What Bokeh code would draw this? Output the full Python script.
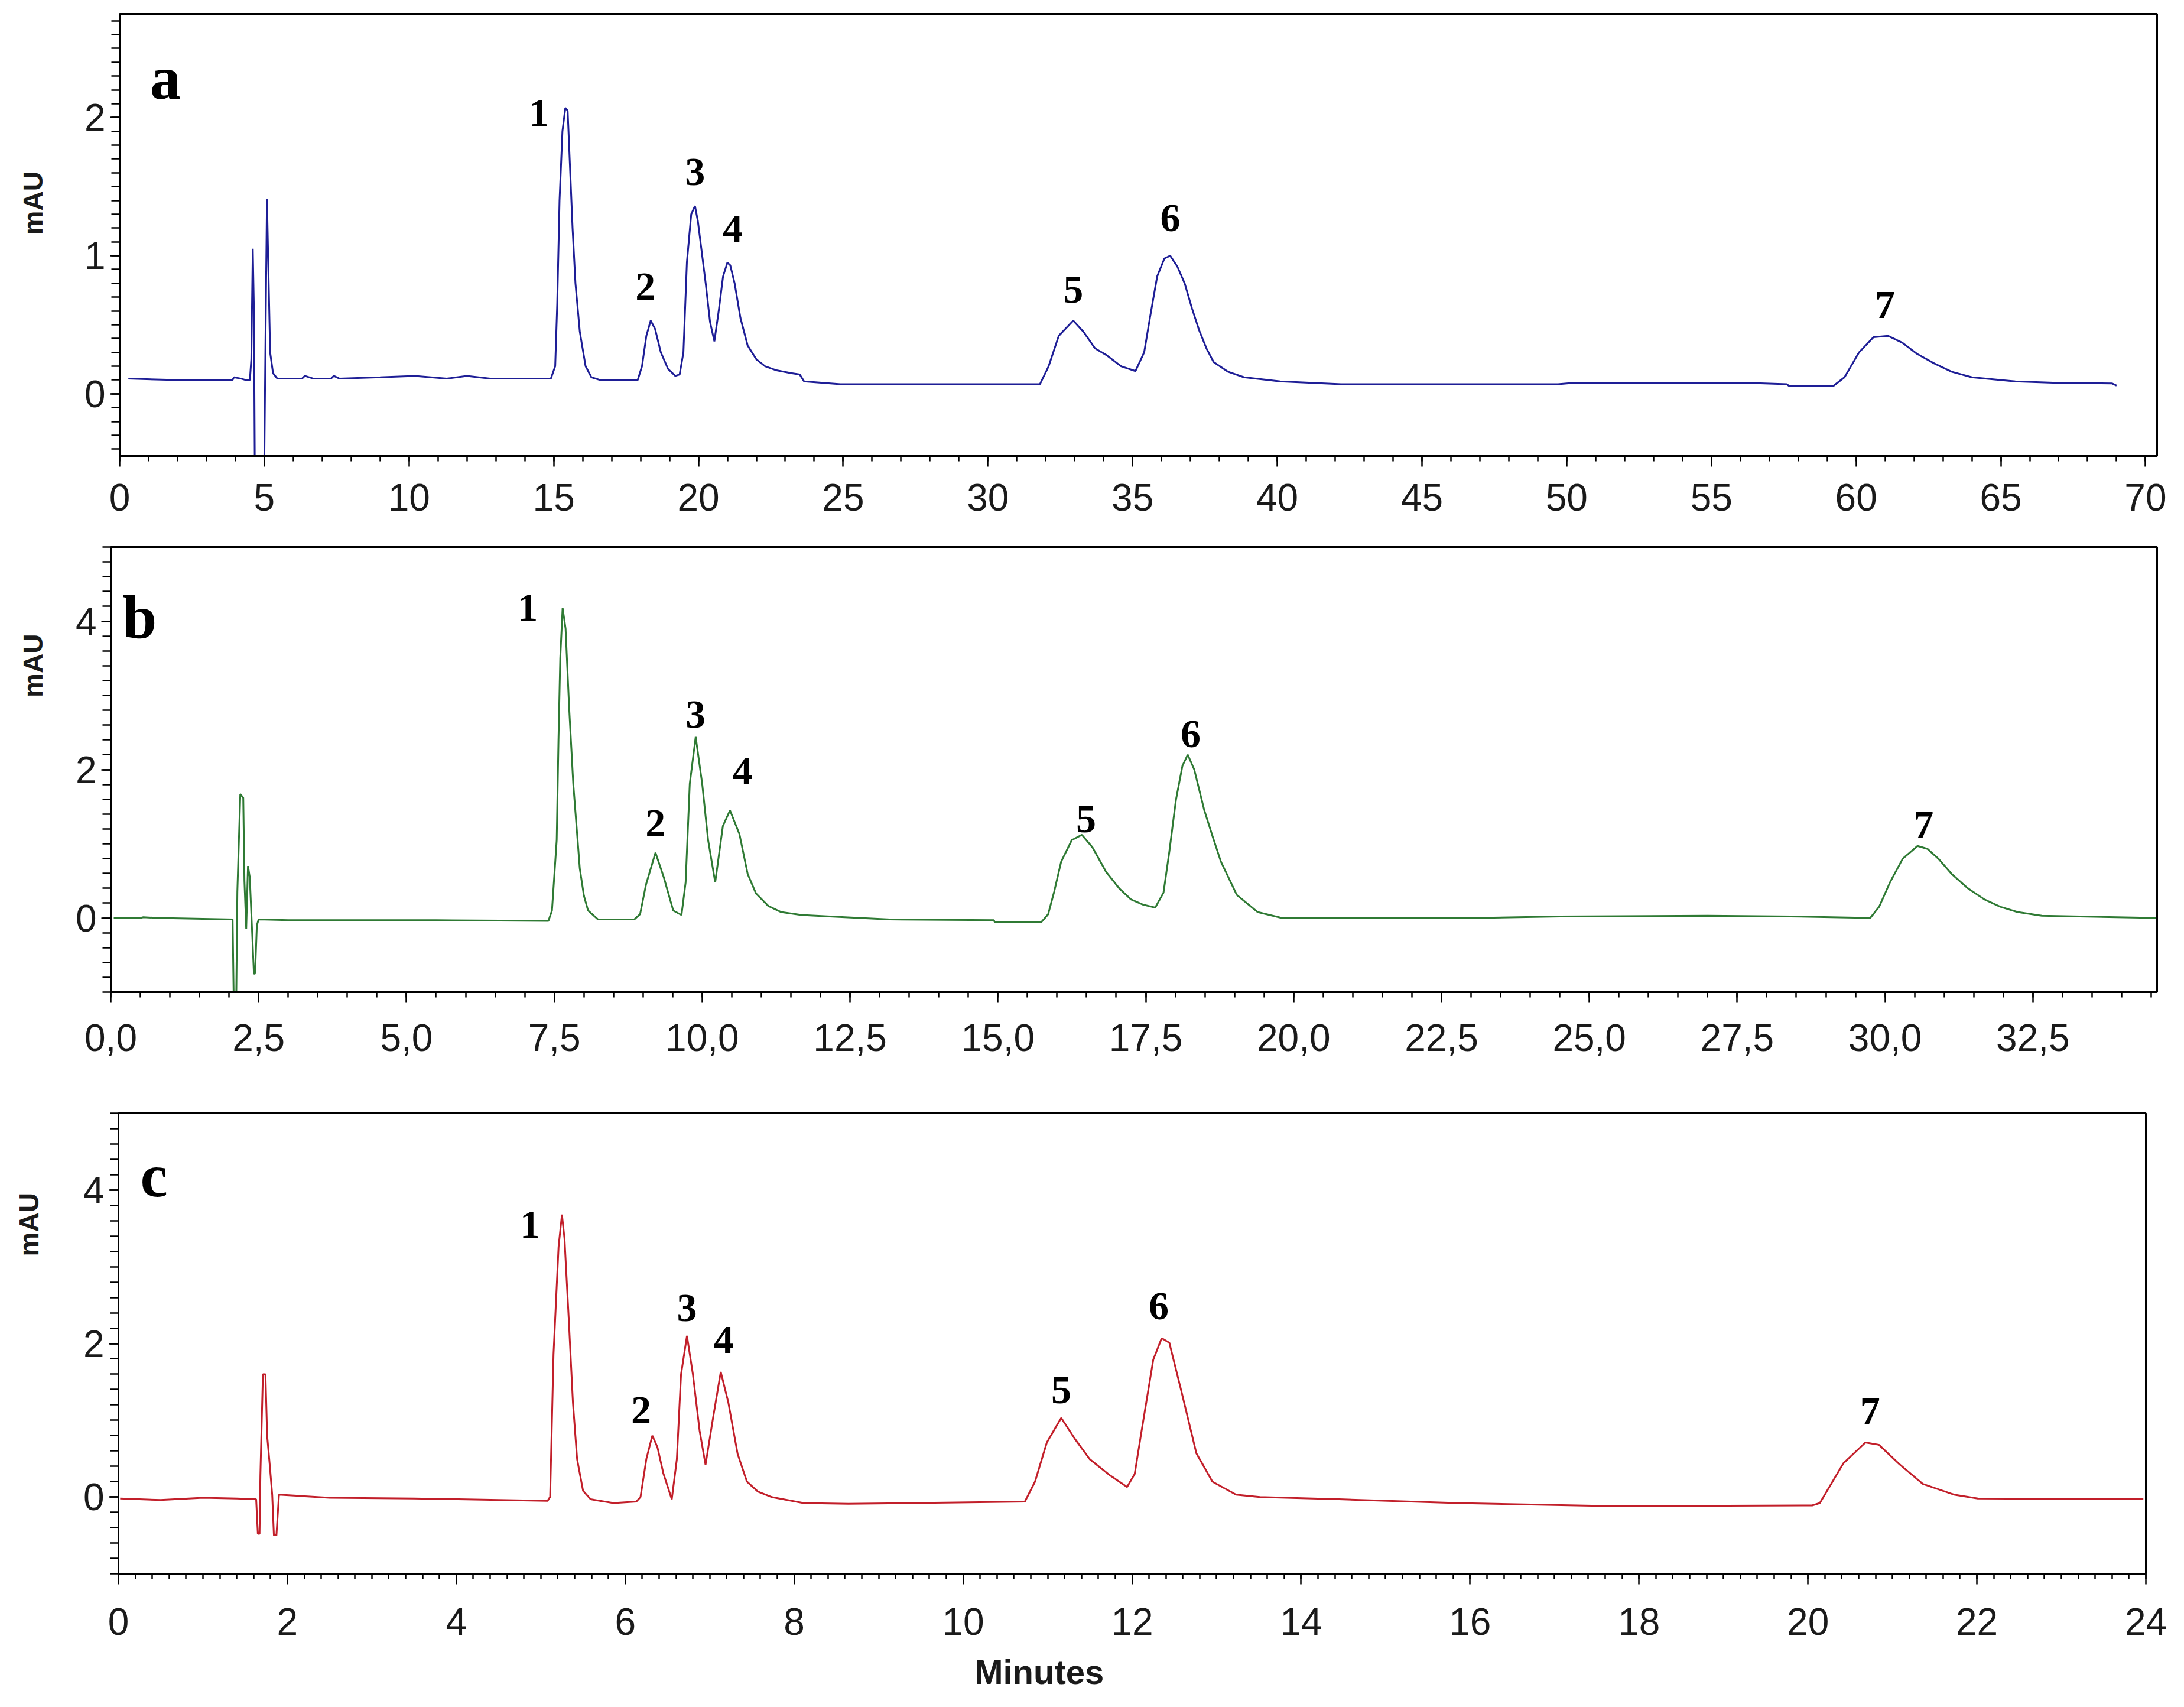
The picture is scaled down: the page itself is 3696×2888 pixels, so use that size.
import math
from bokeh.plotting import figure
from bokeh.layouts import column, row
from bokeh.models import (SingleIntervalTicker, CustomJSTickFormatter, Label, Spacer,
                          ColumnDataSource, Range1d)
from bokeh.core.properties import value
from bokeh.embed import file_html
from bokeh.resources import INLINE

# ---- chromatogram a (minutes, mAU) ----
time_a = [0.3, 2.0, 3.9, 3.95, 4.2, 4.35, 4.5, 4.55, 4.6, 4.64, 4.68, 4.98, 5.04, 5.09, 5.14,
          5.2, 5.3, 5.45, 6.3, 6.4, 6.7, 7.3, 7.4, 7.6, 9.0, 10.2, 11.3, 12.0, 12.8, 14.9,
          15.05, 15.12, 15.2, 15.3, 15.4, 15.48, 15.55, 15.65, 15.75, 15.9, 16.1, 16.3, 16.6,
          17.9, 18.05, 18.2, 18.35, 18.5, 18.7, 18.95, 19.2, 19.35,
          19.48, 19.6, 19.75, 19.88, 19.98, 20.1, 20.25, 20.4, 20.55,
          20.7, 20.85, 21.0, 21.1, 21.25, 21.45, 21.7, 22.0, 22.3, 22.7, 23.2, 23.5, 23.65,
          24.9, 28.0, 31.8,
          32.1, 32.45, 32.95, 33.3, 33.7, 34.1, 34.6, 35.1,
          35.4, 35.6, 35.85, 36.1, 36.3, 36.55, 36.8, 37.05, 37.3, 37.55, 37.8, 38.3, 38.85,
          40.1, 42.2, 49.7, 50.3, 56.1, 57.6, 57.7, 59.2,
          59.6, 60.1, 60.6, 61.1, 61.6, 62.1, 62.7, 63.3, 64.0, 65.0, 65.5, 66.8, 68.85, 69.0]
mau_a = [0.11, 0.10, 0.10, 0.12, 0.11, 0.10, 0.10, 0.25, 1.05, 0.6, -0.9, -0.9, 0.4, 1.41, 0.9,
         0.3, 0.15, 0.11, 0.11, 0.13, 0.11, 0.11, 0.13, 0.11, 0.12, 0.13, 0.11, 0.13, 0.11, 0.11,
         0.2, 0.65, 1.4, 1.9, 2.07, 2.05, 1.7, 1.2, 0.8, 0.45, 0.2, 0.12, 0.10,
         0.10, 0.2, 0.42, 0.53, 0.47, 0.3, 0.18, 0.13, 0.14,
         0.3, 0.95, 1.3, 1.36, 1.25, 1.05, 0.8, 0.52, 0.38,
         0.6, 0.85, 0.95, 0.93, 0.8, 0.55, 0.35, 0.25, 0.2, 0.17, 0.15, 0.14, 0.09,
         0.07, 0.07, 0.07,
         0.2, 0.42, 0.53, 0.45, 0.33, 0.28, 0.2, 0.165,
         0.3, 0.55, 0.85, 0.98, 1.0, 0.92, 0.8, 0.62, 0.46, 0.33, 0.23, 0.16, 0.12,
         0.09, 0.07, 0.07, 0.08, 0.08, 0.07, 0.055, 0.055,
         0.12, 0.3, 0.41, 0.42, 0.37, 0.29, 0.22, 0.16, 0.12, 0.10, 0.09, 0.08, 0.075, 0.06]
peaks_a = [15.45, 18.35, 19.88, 21.0, 32.95, 36.3, 61.0]

# ---- chromatogram b ----
time_b = [0.05, 0.5, 0.55, 0.8, 2.06, 2.08, 2.12, 2.14, 2.19, 2.24, 2.26, 2.29, 2.32, 2.35,
          2.38, 2.42, 2.44, 2.47, 2.5, 3.0, 5.5, 7.4,
          7.46, 7.54, 7.57, 7.6, 7.64, 7.69, 7.75, 7.82, 7.93, 8.0, 8.07, 8.24, 8.85,
          8.95, 9.05, 9.21, 9.35, 9.51, 9.65,
          9.72, 9.79, 9.89, 10.0, 10.1, 10.22,
          10.35, 10.47, 10.63, 10.77, 10.91, 11.12, 11.33, 11.68, 12.16, 13.17, 14.93, 14.95,
          15.73, 15.85, 15.95, 16.07, 16.25, 16.42, 16.6, 16.83, 17.05, 17.25, 17.45, 17.66,
          17.8, 17.9, 18.01, 18.12, 18.21, 18.32, 18.49, 18.63, 18.77, 19.04, 19.39, 19.8,
          23.1, 24.5, 27.0, 28.4, 29.75,
          29.9, 30.09, 30.3, 30.55, 30.72, 30.9, 31.13, 31.4, 31.68, 31.95, 32.24, 32.65, 34.58]
mau_b = [0.0, 0.0, 0.01, 0.0, -0.02, -1.2, -1.2, 0.35, 1.67, 1.62, 0.5, -0.15, 0.7, 0.55,
         0.0, -0.75, -0.75, -0.1, -0.02, -0.03, -0.03, -0.04,
         0.1, 1.05, 2.4, 3.5, 4.18, 3.9, 2.84, 1.81, 0.67, 0.3, 0.1, -0.02, -0.02,
         0.05, 0.45, 0.88, 0.55, 0.1, 0.04,
         0.48, 1.81, 2.44, 1.81, 1.05, 0.48,
         1.24, 1.45, 1.13, 0.59, 0.33, 0.16, 0.08, 0.04, 0.02, -0.02, -0.03, -0.06,
         -0.06, 0.05, 0.35, 0.76, 1.05, 1.12, 0.95, 0.62, 0.4, 0.25, 0.18, 0.14,
         0.34, 0.9, 1.59, 2.05, 2.2, 2.0, 1.45, 1.1, 0.76, 0.31, 0.08, 0.0,
         0.0, 0.02, 0.03, 0.02, 0.0,
         0.15, 0.49, 0.8, 0.97, 0.93, 0.8, 0.59, 0.4, 0.25, 0.15, 0.08, 0.03, 0.0]
peaks_b = [7.64, 9.21, 9.89, 10.47, 16.42, 18.21, 30.6]

# ---- chromatogram c ----
time_c = [0.02, 0.5, 1.0, 1.4, 1.63, 1.65, 1.67, 1.68, 1.71, 1.74, 1.76, 1.79, 1.82, 1.84,
          1.87, 1.9, 2.5, 3.5, 4.5, 5.08,
          5.11, 5.15, 5.21, 5.25, 5.28, 5.33, 5.38, 5.43, 5.5, 5.59, 5.86, 6.13,
          6.18, 6.25, 6.32, 6.38, 6.45, 6.55,
          6.61, 6.66, 6.73, 6.8, 6.88, 6.95,
          7.04, 7.13, 7.22, 7.33, 7.44, 7.57, 7.73, 8.11, 8.64, 10.73,
          10.85, 10.99, 11.16, 11.32, 11.5, 11.74, 11.94,
          12.03, 12.11, 12.25, 12.35, 12.44, 12.58, 12.76, 12.95, 13.23, 13.51, 14.45, 15.85,
          17.71, 20.05,
          20.14, 20.42, 20.68, 20.84, 21.08, 21.36, 21.73, 22.01, 23.97]
mau_c = [-0.02, -0.04, -0.01, -0.02, -0.03, -0.48, -0.48, 0.28, 1.6, 1.6, 0.8, 0.43, 0.03, -0.5,
         -0.5, 0.03, -0.01, -0.02, -0.04, -0.05,
         0.0, 1.86, 3.26, 3.68, 3.37, 2.33, 1.23, 0.49, 0.08, -0.03, -0.08, -0.06,
         0.0, 0.5, 0.80, 0.65, 0.31, -0.03,
         0.49, 1.6, 2.1, 1.6, 0.86, 0.42,
         1.04, 1.63, 1.23, 0.56, 0.2, 0.07, 0.0, -0.08, -0.09, -0.06,
         0.2, 0.71, 1.03, 0.76, 0.49, 0.28, 0.13,
         0.3, 0.85, 1.79, 2.07, 2.01, 1.39, 0.57, 0.2, 0.03, 0.0, -0.03, -0.08,
         -0.12, -0.11,
         -0.08, 0.44, 0.71, 0.68, 0.43, 0.17, 0.03, -0.02, -0.03]
peaks_c = [5.25, 6.32, 6.73, 7.13, 11.16, 12.35, 20.7]

peak_names = ["1", "2", "3", "4", "5", "6", "7"]

SANS = "Liberation Sans"
SERIF = "Liberation Serif"
SIDE_W = 100


def apex(ts, vs, t0, half):
    return max(v for t, v in zip(ts, vs) if abs(t - t0) <= half)


def bare_figure(w, h, xr, yr, borders):
    left, right, top, bottom = borders
    f = figure(width=w, height=h, output_backend="svg", toolbar_location=None,
               x_range=Range1d(*xr), y_range=Range1d(*yr),
               x_axis_type=None, y_axis_type=None,
               min_border_left=left, min_border_right=right,
               min_border_top=top, min_border_bottom=bottom)
    f.outline_line_color = None
    f.grid.visible = False
    return f


def side_title(yr, h, top, bottom, xpos, ypos):
    # narrow strip left of a panel that carries the rotated "mAU" title
    s = bare_figure(SIDE_W, h, (0, 1), yr, (0, 0, top, bottom))
    s.text(x=[xpos], y=[ypos], text=["mAU"], angle=math.pi / 2,
           text_font=value(SANS), text_font_style="bold", text_font_size="46px",
           text_align="center", text_baseline="middle", text_color="#1a1a1a")
    return s


def make_panel(name, ts, vs, peaks, color, xr, yr, xtick, xminor, ytick, borders,
               half, xoffs, yoffs, letter_at, xstand, comma=False):
    left, right, top, bottom, h = borders
    p = figure(width=3680 - SIDE_W, height=h, output_backend="svg", toolbar_location=None,
               x_range=Range1d(*xr), y_range=Range1d(*yr),
               min_border_left=left, min_border_right=right,
               min_border_top=top, min_border_bottom=bottom)
    p.grid.visible = False
    p.outline_line_color = "black"
    p.outline_line_width = 3
    p.background_fill_color = "white"
    p.border_fill_color = "white"

    p.xaxis.ticker = SingleIntervalTicker(interval=xtick, num_minor_ticks=xminor)
    p.yaxis.ticker = SingleIntervalTicker(interval=ytick, num_minor_ticks=10)
    if comma:
        p.xaxis.formatter = CustomJSTickFormatter(
            code="return tick.toFixed(1).replace('.', ',');")
    for ax in (p.xaxis, p.yaxis):
        ax.axis_line_width = 3
        ax.axis_line_color = "black"
        ax.major_tick_line_width = 2.5
        ax.minor_tick_line_width = 2.5
        ax.major_tick_in = 0
        ax.minor_tick_in = 0
        ax.major_label_text_font = SANS
        ax.major_label_text_font_size = "64px"
        ax.major_label_text_color = "#1a1a1a"
    p.yaxis.major_label_standoff = 8
    p.xaxis.major_label_standoff = xstand
    p.xaxis.major_tick_out = 18
    p.xaxis.minor_tick_out = 9
    p.yaxis.major_tick_out = 16
    p.yaxis.minor_tick_out = 14

    p.line(ts, vs, line_color=color, line_width=3)

    src = ColumnDataSource(dict(
        x=peaks,
        y=[apex(ts, vs, t0, half) for t0 in peaks],
        text=peak_names,
        xo=xoffs,
        yo=yoffs,
    ))
    p.text(x="x", y="y", text="text", source=src, x_offset="xo", y_offset="yo",
           text_font=value(SERIF), text_font_style="bold", text_font_size="68px",
           text_align="center", text_baseline="middle", text_color="black")

    p.add_layout(Label(x=letter_at[0], y=letter_at[1], text=name,
                       text_font=SERIF, text_font_style="bold", text_font_size="104px",
                       text_align="center", text_baseline="middle", text_color="black"))
    return p


pa = make_panel("a", time_a, mau_a, peaks_a, "#1e1e96", (0, 70.4), (-0.45, 2.75), 5, 5, 1,
                (102, 30, 23, 125, 896), 0.6,
                [-47, -9, 0, 9, 0, 0, 0], [9, -57, -57, -57, -52, -64, -52],
                (1.58, 2.29), 29)
pb = make_panel("b", time_b, mau_b, peaks_b, "#2f7a34", (0, 34.6), (-1, 5), 2.5, 5, 2,
                (87, 30, 29, 131, 913), 0.3,
                [-59, 0, 0, 21, 7, 5, 5], [0, -50, -38, -66, -26, -35, -35],
                (0.49, 4.06), 36, comma=True)
pc = make_panel("c", time_c, mau_c, peaks_c, "#c21f2a", (0, 24), (-1, 5), 2, 10, 2,
                (100, 49, 74, 130, 983), 0.2,
                [-54, -19, 0, 5, 0, -5, 5], [17, -43, -47, -54, -47, -54, -52],
                (0.42, 4.19), 40)

sa = side_title((-0.45, 2.75), 896, 23, 125, 0.55, 1.38)
sb = side_title((-1, 5), 913, 29, 131, 0.55, 3.4)
sc = side_title((-1, 5), 983, 74, 130, 0.48, 3.55)

# strip under panel c for the "Minutes" title, sharing c's time scale
pm = bare_figure(3680 - SIDE_W, 80, (0, 24), (0, 1), (100, 49, 0, 0))
pm.text(x=[10.9], y=[0.55], text=["Minutes"], text_font=value(SANS),
        text_font_style="bold", text_font_size="58px", text_align="center",
        text_baseline="middle", text_color="#1a1a1a")

layout = column(row(sa, pa), row(sb, pb), row(sc, pc),
                row(Spacer(width=SIDE_W, height=80), pm))
open("out.html", "w").write(file_html(layout, INLINE))
